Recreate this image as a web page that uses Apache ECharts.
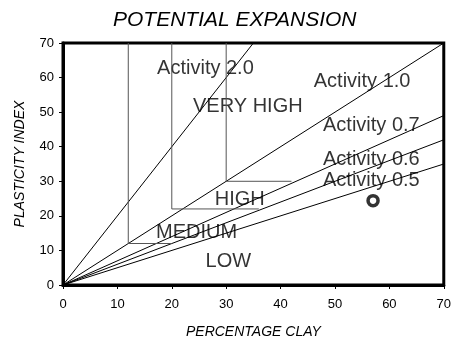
<!DOCTYPE html>
<html>
<head>
<meta charset="utf-8">
<script src="https://cdn.jsdelivr.net/npm/echarts@6/dist/echarts.min.js"></script>
<style>
  html, body { margin: 0; padding: 0; background: #fff; }
  #chart { width: 454px; height: 348px; }
</style>
</head>
<body>
<div id="chart"></div>
<script>
// Activity lines: each runs from the origin to where it leaves the plot
const activityNames = ['Activity 2.0', 'Activity 1.0', 'Activity 0.7', 'Activity 0.6', 'Activity 0.5'];
const activityEnds = [[35, 70], [70, 70], [70, 49], [70, 42], [70, 35]];

// Class boundaries (vertical drop + horizontal shelf)
const boundaryMedium = [[12, 70], [12, 12], [20, 12]];
const boundaryHigh = [[20, 70], [20, 22], [36, 22]];
const boundaryVeryHigh = [[30, 70], [30, 30], [42, 30]];

// Tested sample
const samplePoint = [[57, 24.4]];

// Text placed in the field (left edge x, vertical centre y)
const fieldLabels = [
  { text: 'Activity 2.0', at: [17.3, 62.5] },
  { text: 'Activity 1.0', at: [46.1, 59] },
  { text: 'VERY HIGH', at: [23.9, 51.5] },
  { text: 'Activity 0.7', at: [47.8, 46] },
  { text: 'Activity 0.6', at: [47.8, 36.2] },
  { text: 'Activity 0.5', at: [47.8, 30.1] },
  { text: 'HIGH', at: [27.9, 24.6] },
  { text: 'MEDIUM', at: [17.1, 15.3] },
  { text: 'LOW', at: [26.2, 6.7] }
];

const font = 'Liberation Sans, Arial, Helvetica, sans-serif';

const series = [];

activityNames.forEach((name, i) => {
  series.push({
    type: 'line', name, data: [[0, 0], activityEnds[i]],
    symbol: 'none', silent: true,
    lineStyle: { color: '#000', width: 1 }
  });
});

[boundaryMedium, boundaryHigh, boundaryVeryHigh].forEach(b => {
  series.push({
    type: 'line', data: b, symbol: 'none', silent: true,
    lineStyle: { color: '#555', width: 1 }
  });
});

series.push({
  type: 'scatter', data: fieldLabels.map(l => ({ value: l.at, name: l.text })),
  symbolSize: 0, silent: true,
  label: {
    show: true, position: [0, 0], align: 'left', verticalAlign: 'middle',
    formatter: p => p.name, color: '#000', fontFamily: font, fontSize: 20
  }
});

series.push({
  type: 'scatter', data: samplePoint, symbol: 'circle', symbolSize: 10,
  silent: true, z: 5,
  itemStyle: { color: '#fff', borderColor: '#000', borderWidth: 3.5 }
});

const chart = echarts.init(document.getElementById('chart'), null, { renderer: 'canvas' });
chart.setOption({
  animation: false,
  backgroundColor: '#fff',
  title: {
    text: 'POTENTIAL EXPANSION', left: 108, top: 5,
    textStyle: { fontFamily: font, fontStyle: 'italic', fontWeight: 'normal', fontSize: 21, color: '#000' }
  },
  grid: {
    left: 63, right: 7, top: 43, bottom: 63,
    show: true, borderColor: '#000', borderWidth: 3
  },
  xAxis: {
    type: 'value', min: 0, max: 70, interval: 10,
    name: 'PERCENTAGE CLAY', nameLocation: 'middle', nameGap: 40,
    nameTextStyle: { fontFamily: font, fontStyle: 'italic', fontSize: 14, color: '#000' },
    axisLine: { show: true, lineStyle: { color: '#000', width: 3 } },
    axisTick: { show: true, length: 4, lineStyle: { color: '#000', width: 1 } },
    axisLabel: { fontFamily: font, fontSize: 13, color: '#000', margin: 13 },
    splitLine: { show: false }
  },
  yAxis: {
    type: 'value', min: 0, max: 70, interval: 10,
    name: 'PLASTICITY INDEX', nameLocation: 'middle', nameGap: 36,
    nameTextStyle: { fontFamily: font, fontStyle: 'italic', fontSize: 14, color: '#000' },
    axisLine: { show: true, lineStyle: { color: '#000', width: 3 } },
    axisTick: { show: true, length: 4, lineStyle: { color: '#000', width: 1 } },
    axisLabel: { fontFamily: font, fontSize: 13, color: '#000', margin: 9 },
    splitLine: { show: false }
  },
  series
});
</script>
</body>
</html>
